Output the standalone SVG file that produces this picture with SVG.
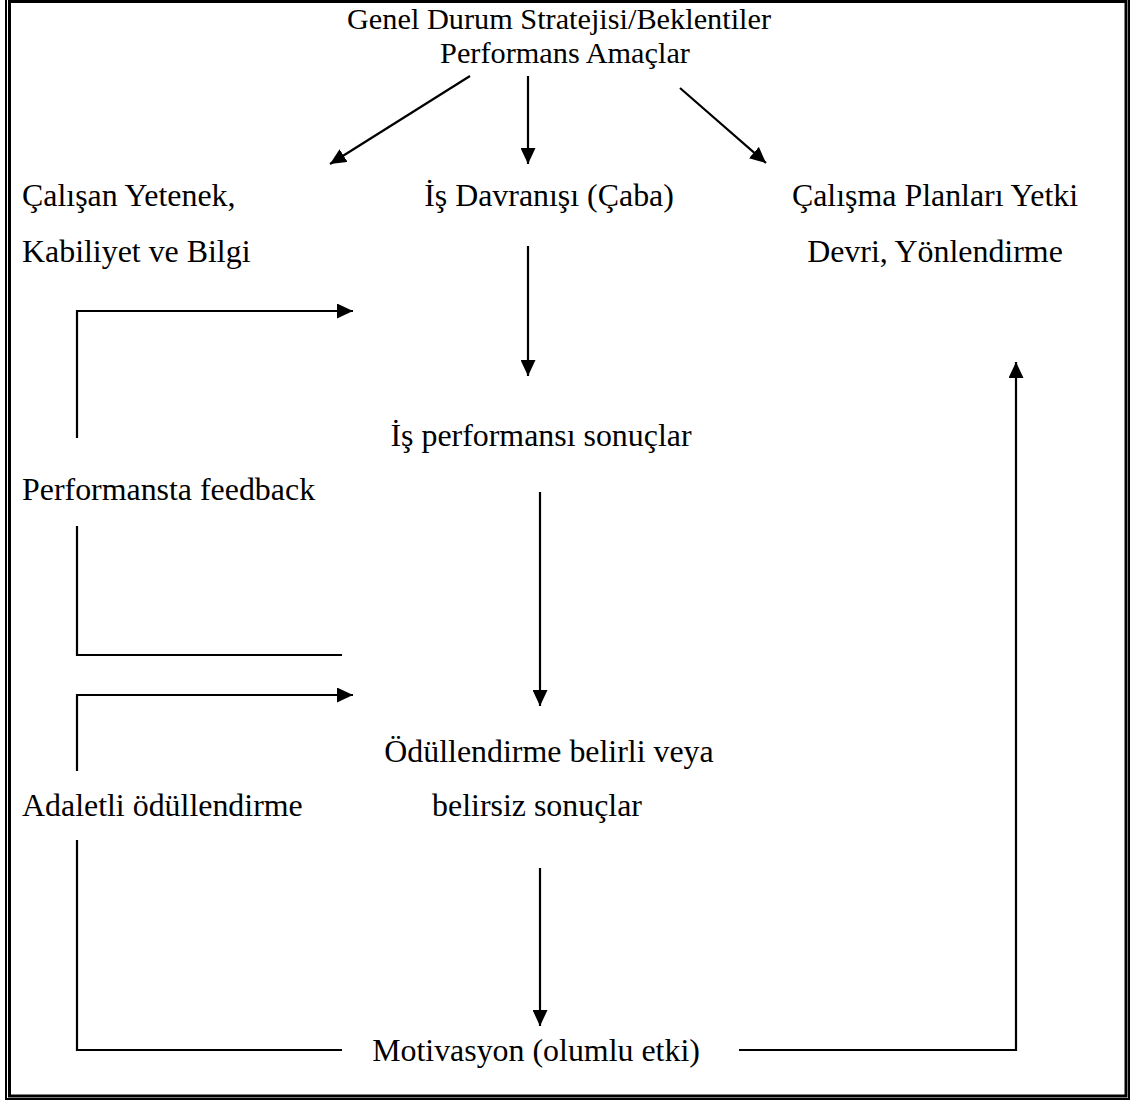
<svg xmlns="http://www.w3.org/2000/svg" width="1134" height="1101" viewBox="0 0 1134 1101">
<style>
text{font-family:"Liberation Serif","Times New Roman",serif;font-size:31.9px;fill:#000}
.t{font-size:30.3px}
.m{text-anchor:middle}
.c{fill:none;stroke:#000;stroke-width:2.2}
.b{fill:none;stroke:#000}
</style>
<defs>
<marker id="ah" markerUnits="userSpaceOnUse" markerWidth="16" markerHeight="15" refX="16" refY="7.5" orient="auto">
<path d="M0,0 L16,7.5 L0,15 z" fill="#000"/>
</marker>
</defs>
<rect width="1134" height="1101" fill="#fff"/>
<g id="border">
<rect class="b" stroke-width="2" x="6" y="-1" width="1123" height="1100"/>
<rect class="b" stroke-width="3" x="9.5" y="1.5" width="1116.5" height="1094.5"/>
</g>
<g id="n-top">
<text class="m t" x="559" y="29">Genel Durum Stratejisi/Beklentiler</text>
<text class="m t" x="565" y="63">Performans Amaçlar</text>
</g>
<g id="n-yetenek">
<text x="22" y="206">Çalışan Yetenek,</text>
<text x="22" y="262">Kabiliyet ve Bilgi</text>
</g>
<g id="n-davranis">
<text class="m" x="549" y="206">İş Davranışı (Çaba)</text>
</g>
<g id="n-plan">
<text class="m" x="935" y="206">Çalışma Planları Yetki</text>
<text class="m" x="935" y="262">Devri, Yönlendirme</text>
</g>
<g id="n-sonuc">
<text class="m" x="541" y="446">İş performansı sonuçlar</text>
</g>
<g id="n-feedback">
<text x="22" y="500">Performansta feedback</text>
</g>
<g id="n-odul">
<text class="m" x="549" y="762">Ödüllendirme belirli veya</text>
<text class="m" x="537" y="816">belirsiz sonuçlar</text>
</g>
<g id="n-adalet">
<text x="22" y="816">Adaletli ödüllendirme</text>
</g>
<g id="n-motivasyon">
<text class="m" x="536" y="1061">Motivasyon (olumlu etki)</text>
</g>
<g id="connectors">
<line class="c" x1="470" y1="76" x2="330" y2="164" marker-end="url(#ah)"/>
<line class="c" x1="528" y1="76" x2="528" y2="164" marker-end="url(#ah)"/>
<line class="c" x1="680" y1="88" x2="766" y2="163" marker-end="url(#ah)"/>
<line class="c" x1="528" y1="246" x2="528" y2="376" marker-end="url(#ah)"/>
<line class="c" x1="540" y1="492" x2="540" y2="706" marker-end="url(#ah)"/>
<line class="c" x1="540" y1="868" x2="540" y2="1026" marker-end="url(#ah)"/>
<polyline class="c" points="77,438 77,311 353,311" marker-end="url(#ah)"/>
<polyline class="c" points="77,526 77,655 342,655"/>
<polyline class="c" points="77,771 77,695 353,695" marker-end="url(#ah)"/>
<polyline class="c" points="77,840 77,1050 342,1050"/>
<polyline class="c" points="739,1050 1016,1050 1016,362" marker-end="url(#ah)"/>
</g>
</svg>
